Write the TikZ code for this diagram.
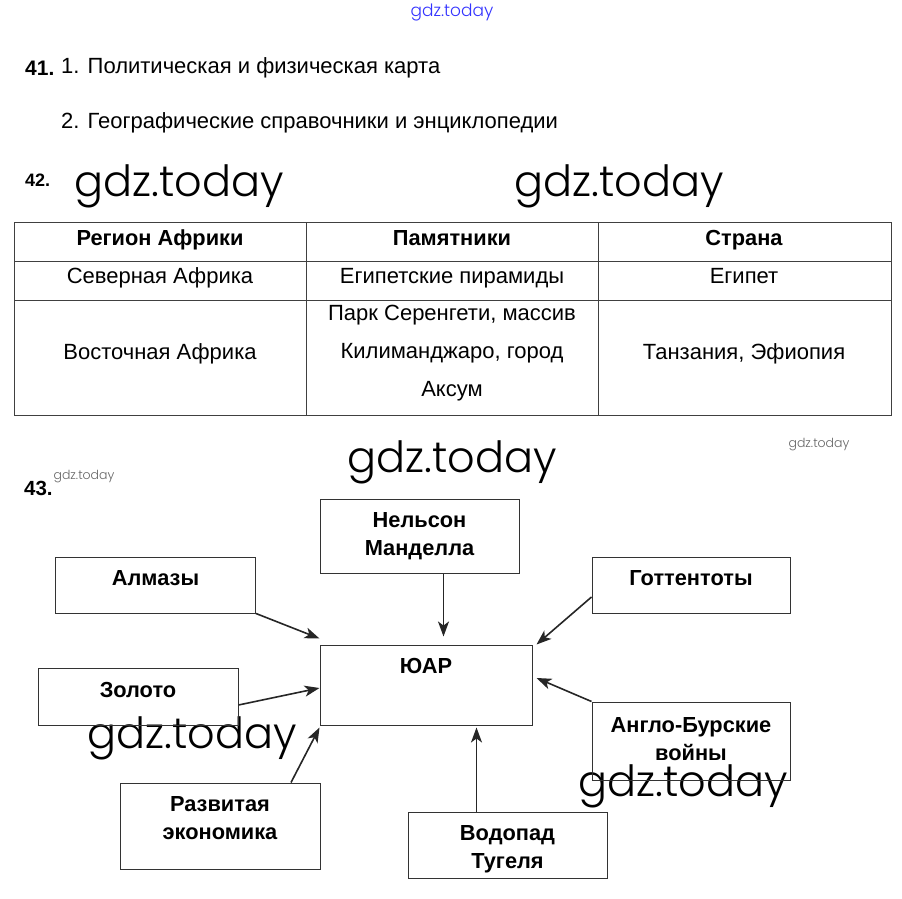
\documentclass[tikz,border=0pt]{standalone}
\usepackage{fontspec}
\setmainfont{Liberation Sans}
\IfFontExistsTF{Poppins Light}{\newfontfamily\wmfont{Poppins Light}}{%
  \IfFontExistsTF{Poppins-Light.ttf}{\newfontfamily\wmfont{Poppins-Light.ttf}}{%
    \IfFontExistsTF{Poppins ExtraLight}{\newfontfamily\wmfont{Poppins ExtraLight}}{\newfontfamily\wmfont{Poppins}}}}
\usetikzlibrary{arrows.meta,positioning}

\tikzset{
  box/.style={draw=black!80, line width=1pt, inner sep=0pt},
  lbl/.style={font=\fontsize{21.8}{28}\selectfont\bfseries, align=center, inner sep=0pt},
  arr/.style={-{Stealth[length=15pt,width=11pt,inset=4pt]}, line width=1.6pt, draw=black!85},
  tbl/.style={draw=black!75, line width=1pt},
  cell/.style={font=\fontsize{22}{38}\selectfont, align=center, inner sep=0pt},
  head/.style={font=\fontsize{21.8}{24}\selectfont\bfseries, inner sep=0pt, anchor=base},
  txt/.style={font=\fontsize{22}{25}\selectfont, anchor=west, inner sep=0pt},
  wm/.style={font=\wmfont\fontsize{43}{43}\selectfont, inner sep=0pt},
  wmsmall/.style={font=\wmfont\fontsize{12.5}{13}\selectfont, inner sep=0pt, text=black!60},
}

\begin{document}
\begin{tikzpicture}[x=1pt,y=-1pt]
  \useasboundingbox (0,0) rectangle (902,899);

  % Watermarks
  \node[wmsmall, text=blue!80, font=\wmfont\fontsize{17}{17}\selectfont] (wmtop) at (452,12) {gdz.today};
  \node[wm] (wma) at (179,186) {gdz.today};
  \node[wm] (wmb) at (619,186) {gdz.today};
  \node[wm] (wmc) at (452,462) {gdz.today};
  \node[wmsmall] (wmd) at (819,445) {gdz.today};
  \node[wm] (wme) at (192,738) {gdz.today};
  \node[wm] (wmf) at (683,786) {gdz.today};

  % Task 41
  \node[txt, font=\fontsize{21}{25}\selectfont\bfseries] (n41) at (25,68) {41.};
  \node[txt] (q41a) at (61,68) {1. Политическая и физическая карта};
  \node[txt] (q41b) at (61,123) {2. Географические справочники и энциклопедии};

  % Task 42
  \node[txt, font=\fontsize{18}{20}\selectfont\bfseries] (n42) at (25,180) {42.};

  % Table
  \draw[tbl] (14,222) rectangle (891,415);
  \draw[tbl] (306,222) -- (306,415);
  \draw[tbl] (598,222) -- (598,415);
  \draw[tbl] (14,261) -- (891,261);
  \draw[tbl] (14,300) -- (891,300);

  \node[head] (h1) at (160,245) {Регион Африки};
  \node[head] (h2) at (452,245) {Памятники};
  \node[head] (h3) at (744,245) {Страна};

  \node[cell, anchor=base] (r1a) at (160,283) {Северная Африка};
  \node[cell, anchor=base] (r1b) at (452,283) {Египетские пирамиды};
  \node[cell, anchor=base] (r1c) at (744,283) {Египет};

  \node[cell, anchor=base] (r2a) at (160,359) {Восточная Африка};
  \node[cell] (r2b) at (452,353) {Парк Серенгети, массив\\Килиманджаро, город\\Аксум};
  \node[cell, anchor=base] (r2c) at (744,359) {Танзания, Эфиопия};

  % Task 43
  \node[txt, font=\fontsize{20.5}{22}\selectfont\bfseries] (n43) at (24,488) {43.};
  \node[wmsmall] (wmg) at (84,477) {gdz.today};

  % Boxes
  \node[box, minimum width=199, minimum height=74] (nelson) at (419.5,536) {};
  \node[box, minimum width=200, minimum height=56] (almaz) at (155.5,585) {};
  \node[box, minimum width=198, minimum height=56] (gott) at (691,585) {};
  \node[box, minimum width=212, minimum height=80] (yuar) at (426,685) {};
  \node[box, minimum width=200, minimum height=57] (zoloto) at (138,696.5) {};
  \node[box, minimum width=198, minimum height=78] (angl) at (691,741) {};
  \node[box, minimum width=200, minimum height=86] (razv) at (220,826) {};
  \node[box, minimum width=199, minimum height=66] (vodop) at (507.5,845) {};

  % Box labels
  \node[lbl] (nelson-t) at (419.5,536) {Нельсон\\Манделла};
  \node[lbl] (almaz-t) at (155.5,578) {Алмазы};
  \node[lbl] (gott-t) at (691,578) {Готтентоты};
  \node[lbl] (yuar-t) at (426,666) {ЮАР};
  \node[lbl] (zoloto-t) at (138,690) {Золото};
  \node[lbl] (angl-t) at (691,739) {Англо-Бурские\\войны};
  \node[lbl] (razv-t) at (220,818) {Развитая\\экономика};
  \node[lbl] (vodop-t) at (507.5,849) {Водопад\\Тугеля};

  % Arrows
  \draw[arr] (almaz.south east) -- ([yshift=6pt]yuar.north west);
  \draw[arr] ([xshift=24pt]nelson.south) -- ([xshift=24pt,yshift=8pt]nelson.south |- yuar.north);
  \draw[arr] ([yshift=-12pt]gott.west) -- ([xshift=4pt]yuar.north east);
  \draw[arr] ([yshift=-8.5pt]zoloto.east) -- ([yshift=-3pt]yuar.west);
  \draw[arr] ([xshift=71pt]razv.north) -- ([yshift=-2pt]yuar.south west);
  \draw[arr] ([xshift=-31pt]vodop.north) -- ([xshift=-31pt,yshift=-2pt]vodop.north |- yuar.south);
  \draw[arr] (angl.north west) -- ([xshift=4pt,yshift=7pt]yuar.east);

\end{tikzpicture}
\end{document}
